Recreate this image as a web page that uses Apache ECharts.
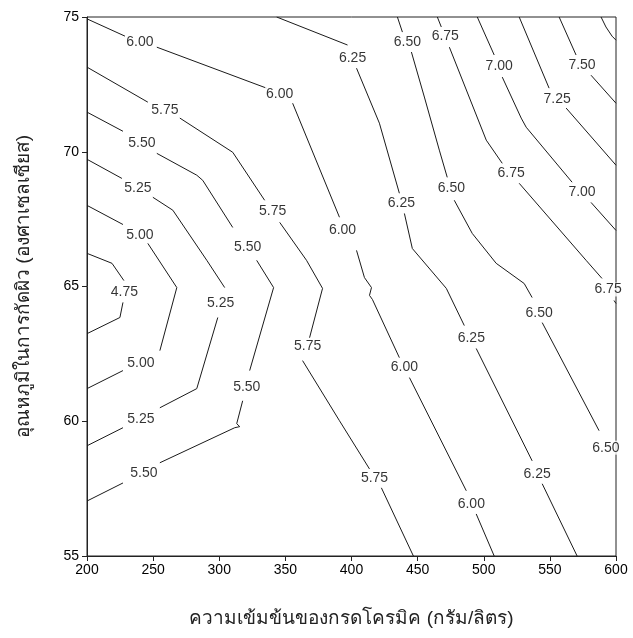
<!DOCTYPE html>
<html>
<head>
<meta charset="utf-8">
<script src="https://cdn.jsdelivr.net/npm/echarts@6/dist/echarts.min.js"></script>
<style>
html,body{margin:0;padding:0;background:#fff;}
#chart{width:633px;height:638px;}
</style>
</head>
<body>
<div id="chart"></div>
<script>
// Axis ticks
const xTicks = [200, 250, 300, 350, 400, 450, 500, 550, 600];
const yTicks = [55, 60, 65, 70, 75];
const xTitle = 'ความเข้มข้นของกรดโครมิค (กรัม/ลิตร)';
const yTitle = 'อุณหภูมิในการกัดผิว (องศาเซลเซียส)';

// Contour paths [concentration, temperature]; entries with 'L' mark the label position (line gap)
const c475 = [[200,66.23],[218.9,65.86],[227.9,65.22],[228.3,64.80,'L'],[227.2,64.41],[224.9,63.85],[200,63.25]];
const c500 = [[200,68.01],[227.2,67.30],[240.0,66.90,'L'],[246.0,66.60],[267.9,64.96],[255.1,62.62],[240.8,62.17,'L'],[227.2,61.88],[200,61.21]];
const c525 = [[200,69.72],[226.4,69.01],[238.5,68.64,'L'],[249.8,68.31],[264.9,67.83],[290.6,65.97],[304.1,64.96],[301.1,64.37,'L'],[298.9,63.85],[283.0,61.21],[255.1,60.50],[240.8,60.09,'L'],[227.2,59.76],[200,59.09]];
const c550 = [[200,71.47],[227.2,70.76],[241.5,70.32,'L'],[252.8,69.94],[283.0,69.13],[287.5,68.94],[310.2,67.19],[321.5,66.45,'L'],[328.3,65.97],[341.1,64.96],[323.0,61.88],[320.8,61.28,'L'],[317.7,60.76],[313.2,59.91],[315.5,59.80],[311.7,59.76],[255.1,58.46],[243.0,58.09,'L'],[227.2,57.71],[200,57.04]];
const c575 = [[200,73.14],[246.0,71.84],[258.9,71.54,'L'],[270.2,71.25],[310.2,69.98],[334.3,68.20],[340.4,67.79,'L'],[345.7,67.38],[366.0,65.97],[378.1,64.93],[368.3,63.10],[366.8,62.77,'L'],[363.0,62.25],[390.9,60.02],[413.6,58.23],[417.4,57.90,'L'],[422.6,57.53],[446.8,55]];
const c600 = [[200,74.93],[228.7,74.29],[240.0,74.07,'L'],[252.8,73.88],[335.8,72.36],[345.7,72.14,'L'],[355.5,71.80],[390.9,67.57],[393.2,67.08,'L'],[403.8,66.34],[409.8,65.33],[415.1,64.96],[413.6,64.67],[415.8,64.52],[436.2,62.36],[440.0,61.99,'L'],[443.8,61.62],[486.8,57.42],[490.6,56.93,'L'],[494.3,56.56],[507.9,55]];
const c625 = [[343.4,75],[397.0,73.96],[400.8,73.48,'L'],[403.8,73.10],[421.1,71.06],[436.2,68.46],[437.7,68.09,'L'],[440.0,67.71],[446.0,66.41],[471.7,64.93],[485.3,63.55],[490.6,63.10,'L'],[494.3,62.70],[536.6,58.53],[540.4,58.05,'L'],[544.2,57.68],[570.6,55]];
const c650 = [[434.7,75],[438.5,74.44],[442.3,74.07,'L'],[445.3,73.70],[455.1,72.03],[466.4,70.06],[472.4,69.05],[475.5,68.64,'L'],[477.7,68.20],[491.3,66.97],[509.4,65.86],[530.6,65.11],[536.6,64.59],[541.9,64.03,'L'],[544.2,63.66],[587.2,59.65],[592.4,59.02,'L'],[600,58.23]];
const c675 = [[464.9,75],[467.9,74.63],[470.9,74.29,'L'],[474.0,73.88],[501.9,70.43],[514.0,69.57],[520.7,69.20,'L'],[526.8,68.83],[577.4,65.97],[589.4,65.30],[594.0,64.89,'L'],[598.5,64.48],[600,64.37]];
const c700 = [[495.1,75],[507.9,73.59],[511.7,73.18,'L'],[514.0,72.77],[528.3,71.25],[532.1,70.91],[566.8,68.87],[574.3,68.49,'L'],[581.1,68.12],[600,67.08]];
const c725 = [[526.8,75],[549.4,72.36],[555.5,71.95,'L'],[562.3,71.62],[600,69.50]];
const c750 = [[557.0,75],[569.8,73.59],[574.3,73.22,'L'],[581.1,72.84],[600,71.80]];
const c775 = [[588.7,75],[592.4,74.63],[597.0,74.29],[600,74.14]];

const contourLevels = ['4.75','5.00','5.25','5.50','5.75','6.00','6.25','6.50','6.75','7.00','7.25','7.50','7.75'];
const contourPaths = [c475,c500,c525,c550,c575,c600,c625,c650,c675,c700,c725,c750,c775];

const series = [];
const labelData = [];
contourPaths.forEach(function(path, i){
  let cur = [];
  const flush = function(){
    if (cur.length > 1) {
      series.push({
        type: 'line', data: cur, symbol: 'none', silent: true, animation: false,
        lineStyle: {color: '#1a1a1a', width: 1}, z: 2
      });
    }
    cur = [];
  };
  path.forEach(function(p){
    if (p[2] === 'L') { flush(); labelData.push([p[0], p[1], contourLevels[i]]); }
    else cur.push([p[0], p[1]]);
  });
  flush();
});
series.push({
  type: 'scatter', data: labelData, symbolSize: 0, silent: true, animation: false, z: 5,
  label: {
    show: true, position: 'inside', formatter: function(p){ return p.data[2]; },
    color: '#000', fontSize: 14, fontFamily: 'Liberation Sans, Arial, sans-serif',
    backgroundColor: '#fff', padding: [0, 1]
  }
});

const chart = echarts.init(document.getElementById('chart'), null, {renderer: 'canvas'});
chart.setOption({
  backgroundColor: '#fff',
  animation: false,
  grid: {left: 87, right: 17, top: 17, bottom: 82, show: true, borderColor: '#222', borderWidth: 1, backgroundColor: 'transparent'},
  xAxis: {
    type: 'value', min: xTicks[0], max: xTicks[xTicks.length-1], interval: 50,
    name: xTitle, nameLocation: 'middle', nameGap: 53,
    nameTextStyle: {fontSize: 19, color: '#222', fontFamily: 'sans-serif'},
    axisLine: {show: true, lineStyle: {color: '#222'}},
    axisTick: {show: true, inside: false, length: 5, lineStyle: {color: '#222'}},
    axisLabel: {fontSize: 14, color: '#000', margin: 7, fontFamily: 'Liberation Sans, Arial, sans-serif'},
    splitLine: {show: false}
  },
  yAxis: {
    type: 'value', min: yTicks[0], max: yTicks[yTicks.length-1], interval: 5,
    name: yTitle, nameLocation: 'middle', nameGap: 54,
    nameTextStyle: {fontSize: 19, color: '#222', fontFamily: 'sans-serif'},
    axisLine: {show: true, lineStyle: {color: '#222'}},
    axisTick: {show: true, inside: false, length: 5, lineStyle: {color: '#222'}},
    axisLabel: {fontSize: 14, color: '#000', margin: 8, fontFamily: 'Liberation Sans, Arial, sans-serif'},
    splitLine: {show: false}
  },
  series: series
});
</script>
</body>
</html>
